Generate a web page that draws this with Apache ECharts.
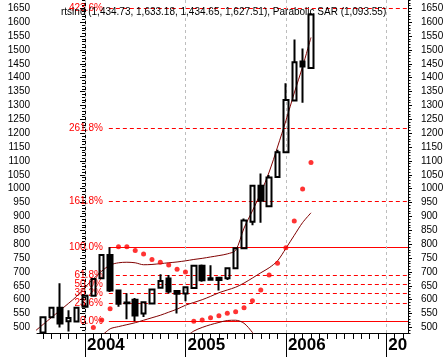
<!DOCTYPE html>
<html><head><meta charset="utf-8">
<script src="https://cdn.jsdelivr.net/npm/echarts@6/dist/echarts.min.js"></script>
<style>html,body{margin:0;padding:0;background:#fff}#c{width:445px;height:357px}</style>
</head><body><div id="c"></div>
<script>
// ---- data (monthly candles, RTS index) ----
const candleDates = ['2003-08','2003-09','2003-10','2003-11','2003-12',
  '2004-01','2004-02','2004-03','2004-04','2004-05','2004-06','2004-07','2004-08','2004-09','2004-10','2004-11','2004-12',
  '2005-01','2005-02','2005-03','2005-04','2005-05','2005-06','2005-07','2005-08','2005-09','2005-10','2005-11','2005-12',
  '2006-01','2006-02','2006-03','2006-04'];
const openV  = [482,537,571,522,521,575,614,677,761,633,590,600,550,586,643,676,631,622,642,722,677,679,677,713,785,881,1011,937,1042,1131,1318,1458,1434.73];
const closeV = [537,571,514,534,571,614,675,761,633,585,587,543,591,637,667,630,621,645,722,670,672,671,713,785,885,1011,957,1040,1131,1320,1456,1440,1627.51];
const lowV   = [476,534,500,485,519,573,612,675,628,575,530,522,538,584,640,622,550,594,640,665,670,633,671,710,782,868,877,935,1040,1129,1316,1310,1434.65];
const highV  = [539,574,659,562,573,617,678,764,789,637,623,606,594,640,692,689,633,647,724,727,724,682,716,788,893,1014,1055,1049,1140,1380,1538,1505,1633.18];

const bandUpDates = ['2003-07','2003-08','2003-09','2003-10','2003-11','2003-12',
  '2004-01','2004-02','2004-03','2004-04','2004-05','2004-06','2004-07','2004-08','2004-09','2004-10','2004-11','2004-12',
  '2005-01','2005-02','2005-03','2005-04','2005-05','2005-06','2005-07','2005-08','2005-09','2005-10','2005-11','2005-12',
  '2006-01','2006-02','2006-03','2006-04'];
const bandUp = [486,511,536,561,586,612,645,675,703,725,733,735,733,726,727,730,733,736,740,745,749,754,759,765,778,858,920,985,1060,1150,1245,1345,1440,1545];

const bandMidDates = ['2004-03','2004-04','2004-05','2004-06','2004-07','2004-08','2004-09','2004-10','2004-11','2004-12',
  '2005-01','2005-02','2005-03','2005-04','2005-05','2005-06','2005-07','2005-08','2005-09','2005-10','2005-11','2005-12',
  '2006-01','2006-02','2006-03','2006-04'];
const bandMid = [470,495,503,510,517,526,535,544,555,566,580,590,600,612,625,635,645,660,678,697,715,740,785,832,878,913];

const bandLowDates = ['2005-01','2005-02','2005-03','2005-04','2005-05','2005-06','2005-07','2005-08','2005-09','2005-10'];
const bandLow = [465,487,500,510,518,525,526,515,482,440];

const sarDates = ['2004-02','2004-03','2004-04','2004-05','2004-06','2004-07','2004-08','2004-09','2004-10','2004-11','2004-12',
  '2005-01','2005-02','2005-03','2005-04','2005-05','2005-06','2005-07','2005-08','2005-09','2005-10','2005-11','2005-12',
  '2006-01','2006-02','2006-03','2006-04'];
const sarV = [500,527,567,791,791,777,765,745,735,725,710,700,522,527,535,542,551,557,571,596,635,689,731,787,884,999,1094];

const fibLevels = [523,586,625,656,687,789,953,1219,1650];
const fibLabels = ['0.0%','23.6%','38.2%','50.0%','61.8%','100.0%','161.8%','261.8%','423.6%'];
const fibSolid  = [true,false,false,false,false,true,false,false,false];
const fibStart = '2004-04';

const yearTickDates = ['2004-01','2005-01','2006-01','2007-01'];
const yearLabels = ['2004','2005','2006','20'];
const titleText = 'rtsind (1,434.73, 1,633.18, 1,434.65, 1,627.51), Parabolic SAR (1,093.55)';

// ---- helpers ----
const toIdx = s => { const p = s.split('-').map(Number); return (p[0]-2004)*12 + (p[1]-1); };
const X_MIN = -5.735, X_MAX = 38.59, Y_MIN = 480, Y_MAX = 1680;
const majorTicks = []; for (let v = 500; v <= 1650; v += 50) majorTicks.push(v);
const minorTicks = []; for (let v = 480; v <= 1680; v += 10) minorTicks.push(v);
const monthTicks = []; for (let m = -5; m <= 38; m++) monthTicks.push(m);
const yearTicks = yearTickDates.map(toIdx);
const FONT = 'Liberation Sans, Arial, sans-serif';

const pairs = (dates, vals) => dates.map((d, i) => [toIdx(d), vals[i]]);

const fibMarks = fibLevels.map((lv, i) => [
  { coord: [toIdx(fibStart) - 0.15, lv],
    lineStyle: { color: '#ff0000', width: 1, type: fibSolid[i] ? 'solid' : [4, 3] },
    label: { show: true, position: 'start', formatter: fibLabels[i], color: '#ff0000',
             fontSize: 10, fontFamily: FONT, distance: 6 } },
  { coord: [X_MAX, lv] }
]);
const yearMarks = yearTicks.map(v => ({ xAxis: v,
  lineStyle: { color: '#bdbdbd', width: 1, type: [3, 3] }, label: { show: false } }));

const yAxisBase = (pos, ticks, len, labels, margin) => ({
  type: 'value', position: pos, min: Y_MIN, max: Y_MAX, offset: 0,
  axisLine: { show: true, lineStyle: { color: '#000', width: 1 } },
  axisTick: { show: true, customValues: ticks, length: len, lineStyle: { color: '#000', width: 1 } },
  axisLabel: labels ? { show: true, customValues: majorTicks, formatter: v => String(v),
    color: '#000', fontSize: 10, fontFamily: FONT, margin: margin } : { show: false },
  splitLine: { show: false }
});

const chart = echarts.init(document.getElementById('c'), null, { renderer: 'canvas' });
chart.setOption({
  animation: false,
  backgroundColor: '#fff',
  title: { text: titleText, left: 56, top: 2,
    textStyle: { fontSize: 10, fontWeight: 'normal', color: '#000', fontFamily: FONT } },
  grid: { left: 37, right: 37, top: 0, bottom: 24, containLabel: false, outerBoundsMode: 'none' },
  xAxis: [
    { type: 'value', position: 'bottom', min: X_MIN, max: X_MAX,
      axisLine: { show: true, lineStyle: { color: '#000', width: 1 } },
      axisTick: { show: true, customValues: monthTicks, length: 6, lineStyle: { color: '#000', width: 1 } },
      axisLabel: { show: false }, splitLine: { show: false } },
    { type: 'value', position: 'bottom', min: X_MIN, max: X_MAX, offset: 0,
      axisLine: { show: false },
      axisTick: { show: true, customValues: yearTicks, length: 26, lineStyle: { color: '#000', width: 1 } },
      axisLabel: { show: true, customValues: yearTicks, formatter: v => yearLabels[yearTicks.indexOf(v)],
        align: 'left', padding: [0, 0, 0, 2], margin: 4, color: '#000',
        fontSize: 17, fontWeight: 'bold', fontFamily: FONT },
      splitLine: { show: false } }
  ],
  yAxis: [
    yAxisBase('left', majorTicks, 5, true, 7),
    yAxisBase('left', minorTicks, 3, false, 0),
    yAxisBase('right', majorTicks, 4, true, 13),
    yAxisBase('right', minorTicks, 2.5, false, 0)
  ],
  series: [
    { type: 'line', name: 'bandMid', data: pairs(bandMidDates, bandMid), showSymbol: false, smooth: 0.3,
      lineStyle: { color: '#800000', width: 1 }, z: 2,
      markLine: { silent: true, symbol: ['none', 'none'], animation: false, z: 1,
        data: fibMarks.concat(yearMarks) } },
    { type: 'line', name: 'bandUp', data: pairs(bandUpDates, bandUp), showSymbol: false, smooth: 0.3,
      lineStyle: { color: '#800000', width: 1 }, z: 2 },
    { type: 'line', name: 'bandLow', data: pairs(bandLowDates, bandLow), showSymbol: false, smooth: 0.3,
      lineStyle: { color: '#800000', width: 1 }, z: 2 },
    { type: 'candlestick', name: 'rtsind', z: 3,
      data: candleDates.map((d, i) => [toIdx(d), openV[i], closeV[i], lowV[i], highV[i]]),
      encode: { x: 0, y: [1, 2, 3, 4] },
      barWidth: 5,
      itemStyle: { color: 'transparent', color0: '#000', borderColor: '#000', borderColor0: '#000', borderWidth: 2 } },
    { type: 'scatter', name: 'SAR', data: pairs(sarDates, sarV), symbol: 'circle', symbolSize: 5, z: 4,
      itemStyle: { color: '#ff0000' } }
  ]
});
</script></body></html>
